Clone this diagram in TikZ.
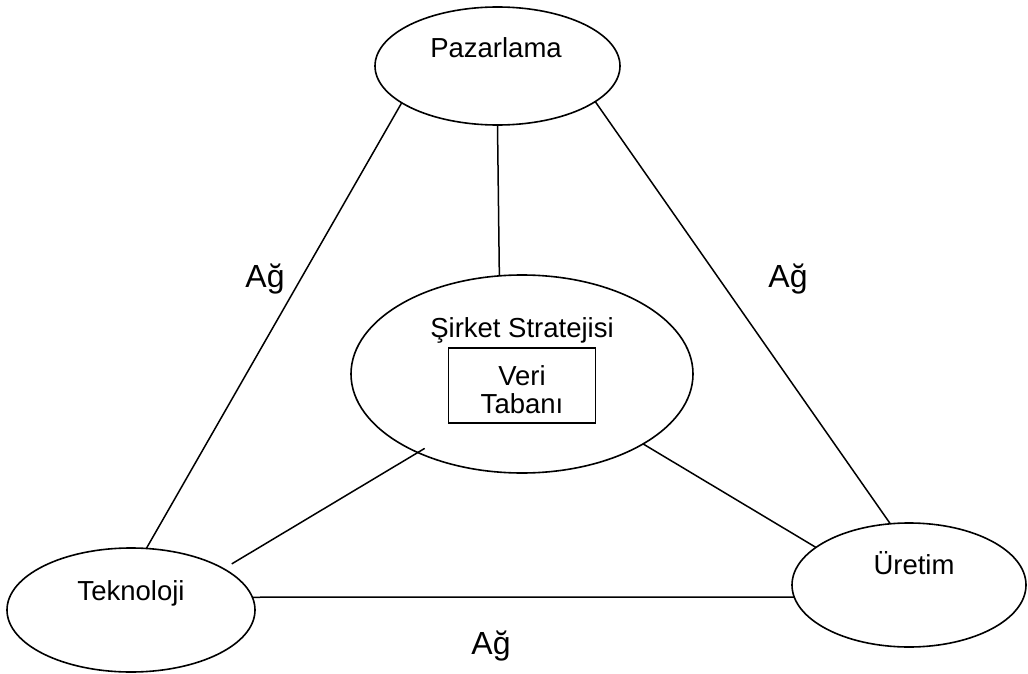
\documentclass[tikz,border=0pt]{standalone}
\usepackage{fontspec}
\setmainfont{Liberation Sans}
\usetikzlibrary{shapes.geometric}
\begin{document}
\begin{tikzpicture}[x=1pt,y=-1pt,
  oval/.style={draw, ellipse, line width=1.6pt, inner sep=0pt, outer sep=0pt},
  dbbox/.style={draw, rectangle, line width=1.6pt, inner sep=0pt, outer sep=0pt},
  link/.style={line width=1.5pt},
  lbl/.style={anchor=base, inner sep=0pt, font=\fontsize{27.5}{28}\selectfont},
  netlbl/.style={anchor=base, inner sep=0pt, font=\fontsize{32}{34}\selectfont}]
\useasboundingbox (0,0) rectangle (1028,674);

% the four units
\node[oval, minimum width=245pt, minimum height=118pt] (P) at (497.5,66) {};
\node[oval, minimum width=342pt, minimum height=198pt] (S) at (522,374) {};
\node[oval, minimum width=248pt, minimum height=124pt] (T) at (131,610) {};
\node[oval, minimum width=234pt, minimum height=124pt] (U) at (909,585) {};
\node[dbbox, minimum width=147pt, minimum height=75pt] (V) at (522,385.5) {};

% their texts
\node[lbl] (Pt) at (496,58) {Pazarlama};
\node[lbl] (St) at (522,337) {Şirket Stratejisi};
\node[lbl] (Vt1) at (522,385) {Veri};
\node[lbl] (Vt2) at (522,413) {Tabanı};
\node[lbl] (Tt) at (131,600) {Teknoloji};
\node[lbl] (Ut) at (914,574) {Üretim};

% connections
\draw[link] (P.-159.2) -- (T.76.4);
\draw[link] (P.south) -- (S.103.8);
\draw[link] (P.-20.2) -- (U.107.9);
\draw[link, shorten <=-8pt, shorten >=9.5pt] (S.-143.4) -- (T.24.9);
\draw[link] (S.-30.7) -- (U.158.1);
\draw[link] (T.6.1) -- (U.186.3);

% network labels
\node[netlbl] (A1) at (265,287) {Ağ};
\node[netlbl] (A2) at (788,287) {Ağ};
\node[netlbl] (A3) at (491,654) {Ağ};
\end{tikzpicture}
\end{document}
